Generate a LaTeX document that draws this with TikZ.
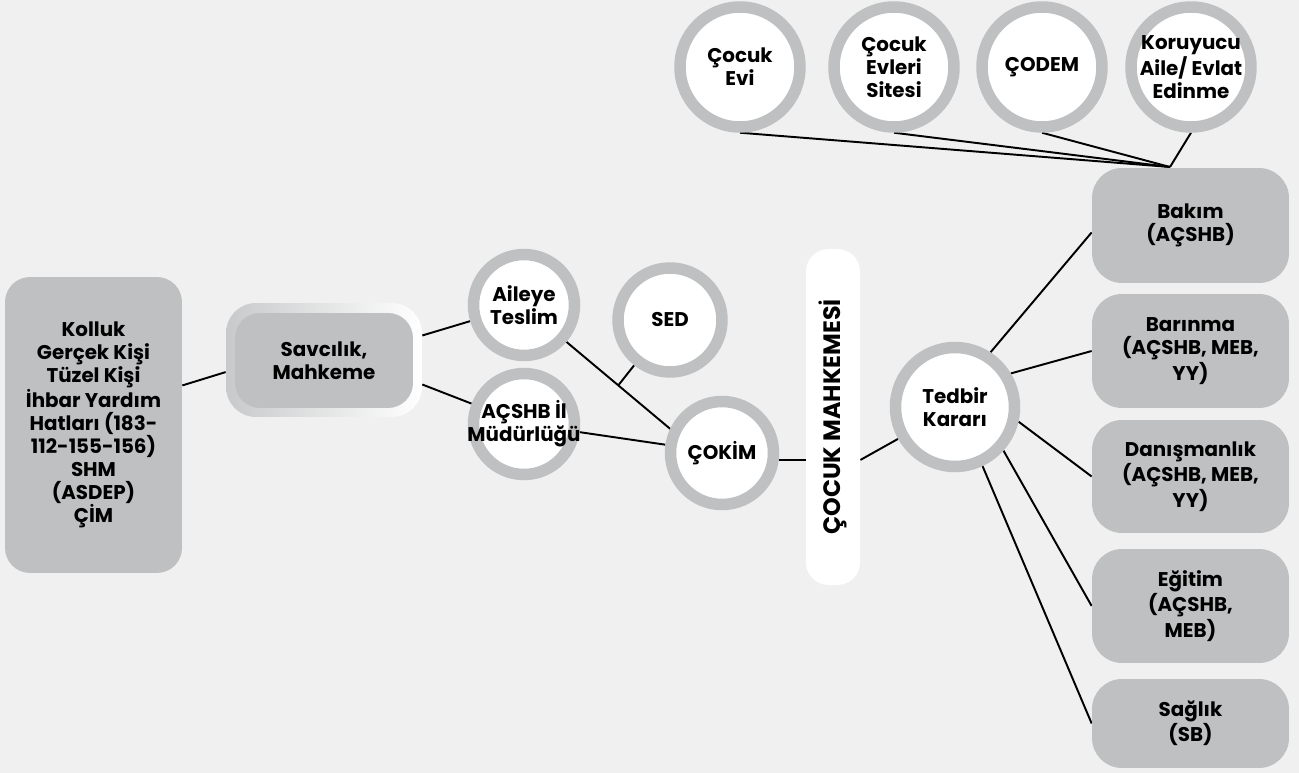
\documentclass[tikz,border=0pt]{standalone}
\usepackage{fontspec}
\setmainfont{Poppins}
\usetikzlibrary{calc,backgrounds}

\definecolor{bggray}{HTML}{F0F0F0}
\definecolor{boxgray}{HTML}{BEC0C1}

\begin{document}
\begin{tikzpicture}[x=0.02cm, y=-0.02cm,
  font=\fontsize{11.3pt}{13.1pt}\selectfont\bfseries,
  box/.style={fill=boxgray, rounded corners=0.6cm, align=center, inner sep=0pt},
  ring/.style={circle, draw=boxgray, line width=0.23cm, fill=white, inner sep=0pt,
               label={[align=center]center:#1}},
  link/.style={line width=1.1pt}]

\begin{pgfonlayer}{background}
\fill [bggray] (0,0) rectangle (1299,773);
\end{pgfonlayer}
\useasboundingbox (0,0) rectangle (1299,773);

\node [box, rounded corners=0.5cm, minimum width=3.54cm, minimum height=5.92cm] (kolluk) at (93.5,425)
  {Kolluk\\Gerçek Kişi\\Tüzel Kişi\\İhbar Yardım\\Hatları (183-\\112-155-156)\\SHM\\(ASDEP)\\ÇİM};

\node [rounded corners=0.6cm, minimum width=3.92cm, minimum height=2.28cm,
       left color=boxgray!85, right color=white] (savcout) at (324,360) {};
\node [box, rounded corners=0.5cm, minimum width=3.56cm, minimum height=1.9cm] (savc) at (324,360.5) {Savcılık,\\Mahkeme};

\node [ring={Aileye\\Teslim},       minimum size=2.02cm] (aileye) at (524,305) {};
\node [ring={SED},                  minimum size=2.08cm] (sed)    at (670,320) {};
\node [ring={AÇSHB İl\\Müdürlüğü},  minimum size=2.02cm] (acshb)  at (524,424) {};
\node [ring={ÇOKİM},                minimum size=2.06cm] (cokim)  at (722,453) {};
\node [ring={Tedbir\\Kararı},       minimum size=2.38cm] (tedbir) at (955,407) {};

\node [fill=white, rounded corners=0.45cm, minimum width=1.08cm, minimum height=6.72cm] (banner) at (833,417) {};
\node [rotate=90, font=\fontsize{13.5pt}{14pt}\selectfont\bfseries] (bannertext) at (banner) {ÇOCUK MAHKEMESİ};

\foreach \name/\x/\txt in {evi/740/{Çocuk\\Evi}, site/894/{Çocuk\\Evleri\\Sitesi},
                           codem/1042/{ÇODEM}, koruyucu/1191/{Koruyucu\\Aile/ Evlat\\Edinme}}
    \node [ring=\txt, minimum size=2.4cm] (\name) at (\x,67) {};

\foreach \name/\y/\h/\txt in {bakim/225.5/2.3/{Bakım\\(AÇSHB)},
                              barinma/351/2.28/{Barınma\\(AÇSHB, MEB,\\YY)},
                              danisma/476.5/2.26/{Danışmanlık\\(AÇSHB, MEB,\\YY)},
                              egitim/606/2.28/{Eğitim\\(AÇSHB,\\MEB)},
                              saglik/723.5/1.78/{Sağlık\\(SB)}}
    \node [box, minimum width=3.94cm, minimum height=\h cm] (\name) at (1190.5,\y) {\txt};

\coordinate (hub) at (1170,167);

\begin{pgfonlayer}{background}
\draw [link] (kolluk.24) -- (savcout.187);
\draw [link] (savcout.14) -- (aileye);
\draw [link] (savcout.-14) -- (acshb);
\draw [link] (aileye.-41) -- (cokim.155) coordinate [pos=0.5] (mid);
\draw [link] (sed) -- (mid);
\draw [link] (acshb) -- (cokim);
\draw [link] (cokim.-7) -- (cokim.-7 -| banner.west);
\draw [link] (cokim.-7 -| banner.east) -- (tedbir);

\draw [link] (tedbir.57)  -- (bakim.184);
\draw [link] (tedbir.31)  -- (barinma.west);
\draw [link] (tedbir.-13) -- (danisma.west);
\draw [link] (tedbir.-42) -- (egitim.west);
\draw [link] (tedbir.-65) -- (saglik.west);

\foreach \n in {evi,site,codem,koruyucu}
    \draw [link] (\n.south) -- (hub);
\end{pgfonlayer}

\end{tikzpicture}
\end{document}
